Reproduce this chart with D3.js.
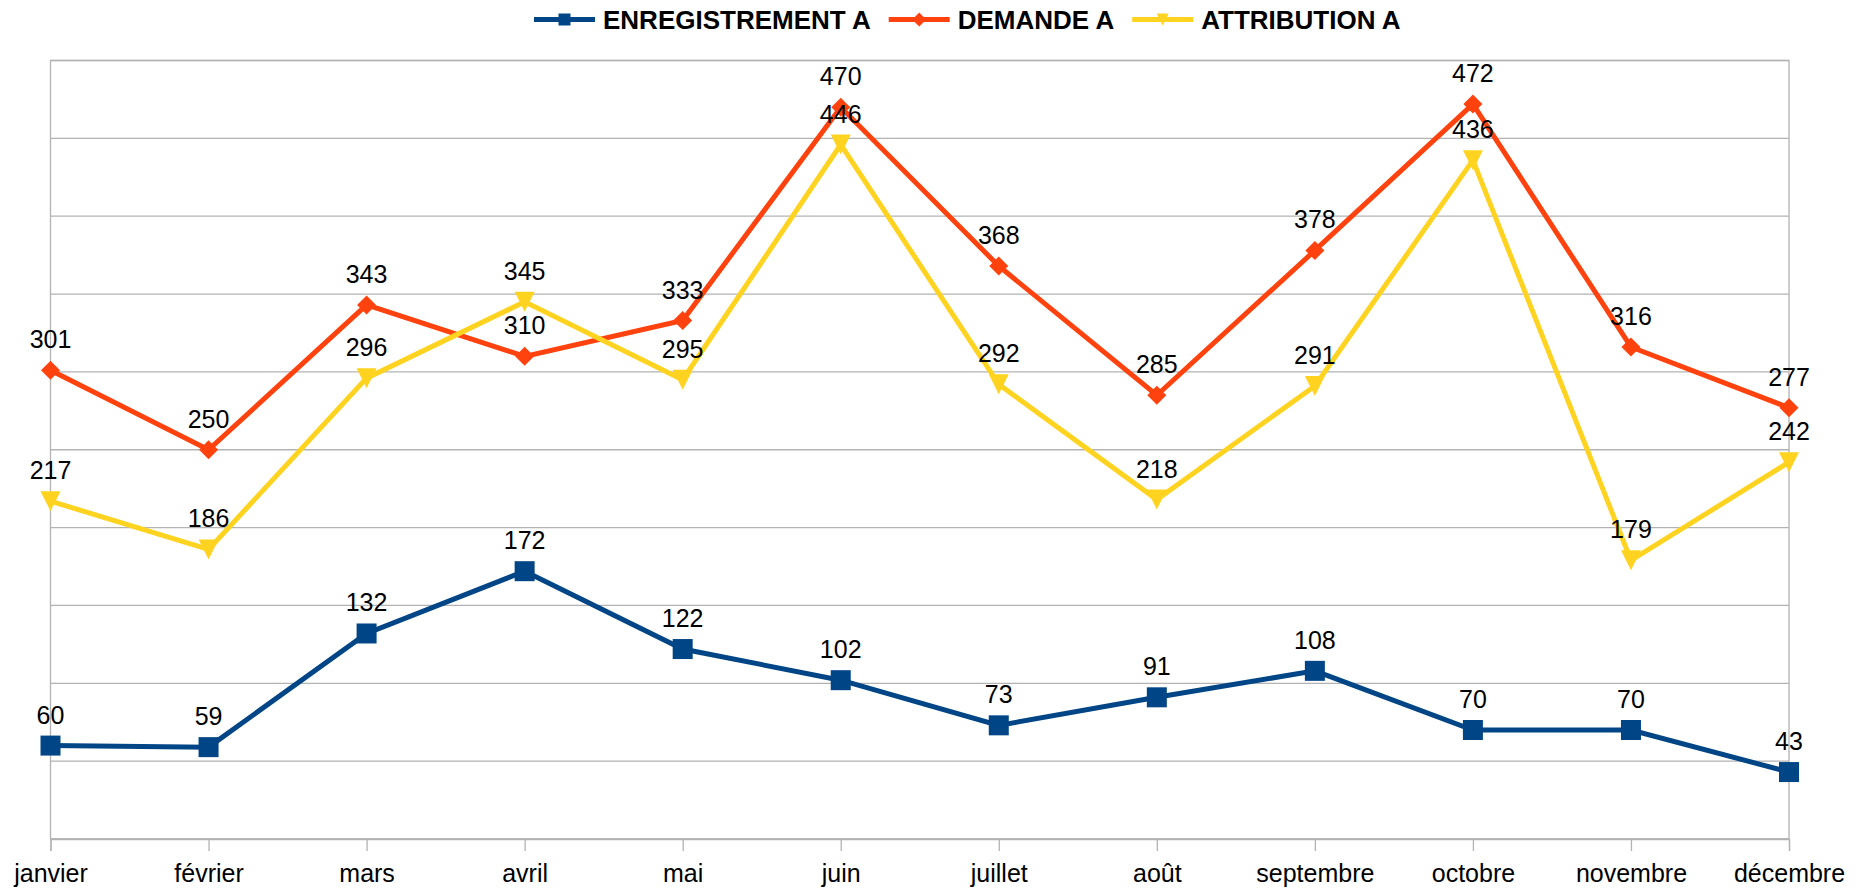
<!DOCTYPE html>
<html>
<head>
<meta charset="utf-8">
<script src="https://cdn.jsdelivr.net/npm/d3@7"></script>
<style>
  body { margin: 0; background: #fff; }
  svg { display: block; font-family: "Liberation Sans", Arial, sans-serif; }
</style>
</head>
<body>
<div id="chart"></div>
<script>
// months along the bottom
var months = ["janvier", "février", "mars", "avril", "mai", "juin",
  "juillet", "août", "septembre", "octobre", "novembre", "décembre"];

// series values
var enregistrement = [60, 59, 132, 172, 122, 102, 73, 91, 108, 70, 70, 43];
var demande = [301, 250, 343, 310, 333, 470, 368, 285, 378, 472, 316, 277];
var attribution = [217, 186, 296, 345, 295, 446, 292, 218, 291, 436, 179, 242];

var seriesNames = ["ENREGISTREMENT A", "DEMANDE A", "ATTRIBUTION A"];
var yTicks = [0, 50, 100, 150, 200, 250, 300, 350, 400, 450, 500];

var colors = ["#004586", "#ff420e", "#ffd320"];
var shapes = ["square", "diamond", "triangle"];

var W = 1865, H = 889;
var margin = { top: 60.5, right: 76, bottom: 50, left: 50.5 };

var svg = d3.select("#chart").append("svg")
  .attr("width", W)
  .attr("height", H);

var x = d3.scalePoint()
  .domain(months)
  .range([margin.left, W - margin.right]);

var y = d3.scaleLinear()
  .domain([0, 500])
  .range([H - margin.bottom, margin.top]);

// marker path centred on 0,0
function marker(shape, r) {
  if (shape == "square") return "M" + -r + "," + -r + "H" + r + "V" + r + "H" + -r + "Z";
  if (shape == "diamond") return "M0," + -r + "L" + r + ",0L0," + r + "L" + -r + ",0Z";
  return "M" + -r + "," + -r + "H" + r + "L0," + r + "Z";
}

// gridlines
svg.append("g")
  .selectAll("line")
  .data(yTicks)
  .enter().append("line")
  .attr("x1", margin.left)
  .attr("x2", W - margin.right)
  .attr("y1", function (d) { return y(d); })
  .attr("y2", function (d) { return y(d); })
  .attr("stroke", "#b3b3b3")
  .attr("stroke-width", 1.3);

// plot frame
svg.append("rect")
  .attr("x", margin.left)
  .attr("y", margin.top)
  .attr("width", W - margin.right - margin.left)
  .attr("height", H - margin.bottom - margin.top)
  .attr("fill", "none")
  .attr("stroke", "#b3b3b3")
  .attr("stroke-width", 1.3);

// x axis
var xaxis = svg.append("g")
  .attr("transform", "translate(0," + (H - margin.bottom) + ")")
  .call(d3.axisBottom(x).tickSize(12));
xaxis.select(".domain").attr("stroke", "#b3b3b3").attr("stroke-width", 1.3);
xaxis.selectAll(".tick line").attr("stroke", "#b3b3b3").attr("stroke-width", 1.3);
xaxis.selectAll("text")
  .attr("y", 43)
  .attr("dy", 0)
  .attr("fill", "#000")
  .style("font-size", "25px")
  .style("font-family", "'Liberation Sans', Arial, sans-serif");

// series
var allSeries = [enregistrement, demande, attribution];
var line = d3.line()
  .x(function (d, i) { return x(months[i]); })
  .y(function (d) { return y(d); });

allSeries.forEach(function (vals, s) {
  var g = svg.append("g");
  g.append("path")
    .datum(vals)
    .attr("d", line)
    .attr("fill", "none")
    .attr("stroke", colors[s])
    .attr("stroke-width", 5)
    .attr("stroke-linejoin", "miter");
  g.selectAll(".pt")
    .data(vals)
    .enter().append("path")
    .attr("class", "pt")
    .attr("transform", function (d, i) { return "translate(" + x(months[i]) + "," + y(d) + ")"; })
    .attr("d", marker(shapes[s], s == 1 ? 9.5 : 10))
    .attr("fill", colors[s]);
});

// value labels on top
allSeries.forEach(function (vals, s) {
  svg.append("g")
    .selectAll("text")
    .data(vals)
    .enter().append("text")
    .attr("x", function (d, i) { return x(months[i]); })
    .attr("y", function (d) { return y(d) - 22; })
    .attr("text-anchor", "middle")
    .style("font-size", "25px")
    .attr("fill", "#000")
    .text(function (d) { return d; });
});

// legend
var lx = 534;
seriesNames.forEach(function (name, s) {
  var g = svg.append("g");
  g.append("line")
    .attr("x1", lx).attr("x2", lx + 61)
    .attr("y1", 19.5).attr("y2", 19.5)
    .attr("stroke", colors[s])
    .attr("stroke-width", 5);
  g.append("path")
    .attr("transform", "translate(" + (lx + 30.5) + ",19.5)")
    .attr("d", marker(shapes[s], s == 1 ? 7 : 6))
    .attr("fill", colors[s]);
  var t = g.append("text")
    .attr("x", lx + 69)
    .attr("y", 28.5)
    .style("font-size", "26px")
    .style("font-weight", "bold")
    .attr("fill", "#000")
    .text(name);
  lx = lx + 69 + t.node().getComputedTextLength() + 18;
});
</script>
</body>
</html>
